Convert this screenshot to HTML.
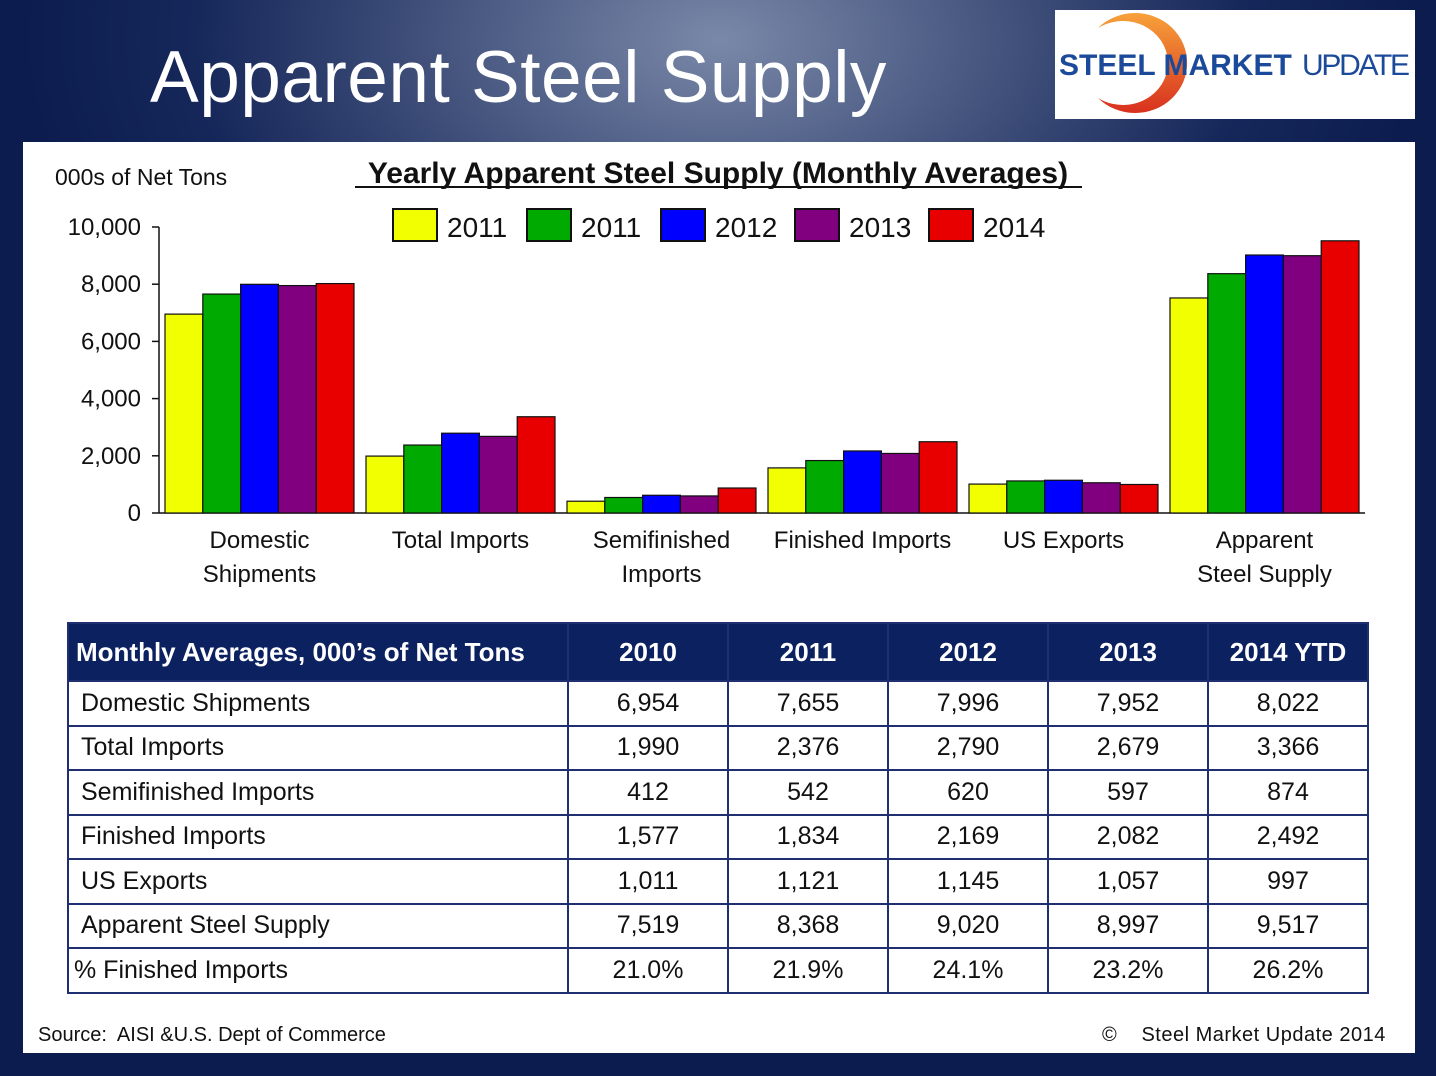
<!DOCTYPE html>
<html><head><meta charset="utf-8"><style>
body{margin:0;width:1436px;height:1076px;overflow:hidden;font-family:"Liberation Sans","DejaVu Sans",sans-serif;
background:radial-gradient(ellipse 700px 420px at 720px 40px,#7a88a8 0%,#3d4d78 45%,#16275a 75%,#0c1c4e 100%);position:relative}
.abs{position:absolute}
#title{left:150px;top:36px;font-size:73px;color:#fff;letter-spacing:0.5px}
#logo{left:1055px;top:10px;width:360px;height:109px;background:#fff}
#panel{left:23px;top:142px;width:1392px;height:911px;background:#fff}
table{position:absolute;left:67px;top:622px;border-collapse:collapse;font-size:25px;color:#111;table-layout:fixed;width:1300px}
td,th{border:2px solid #1f2f70;height:42.5px;padding:0;text-align:center}
th{background:#0c2160;color:#fff;font-weight:bold;height:56px;font-size:26px}
td.l{text-align:left;padding-left:12px}
</style></head><body>
<div id="title" class="abs">Apparent Steel Supply</div>
<div id="logo" class="abs">
<svg width="360" height="109"><defs><linearGradient id="g" x1="0" y1="0" x2="0" y2="1"><stop offset="0" stop-color="#f7a23a"/><stop offset="1" stop-color="#d8301e"/></linearGradient></defs>
<path d="M55,22 A52,50 0 1,1 55,92 A45,42 0 1,0 55,22 Z" transform="translate(-12,-4)" fill="url(#g)"/>
<text x="4" y="65" font-size="30" font-weight="bold" fill="#1c4a9a" font-family="Liberation Sans,sans-serif">STEEL MARKET</text>
<text x="247" y="65" font-size="30" fill="#1c4a9a" font-family="Liberation Sans,sans-serif" textLength="108">UPDATE</text></svg></div>
<div id="panel" class="abs"></div>
<svg class="abs" style="left:0;top:0" width="1436" height="620" id="chart">
<text x="55" y="185" font-size="23" fill="#111">000s of Net Tons</text>
<text x="718" y="183" font-size="30" font-weight="bold" text-anchor="middle" fill="#111">Yearly Apparent Steel Supply (Monthly Averages)</text>
<line x1="355" y1="187" x2="1082" y2="187" stroke="#111" stroke-width="2"/>
<g id="plot"></g>
</svg>
<table>
<colgroup><col style="width:500px"><col style="width:160px"><col style="width:160px"><col style="width:160px"><col style="width:160px"><col style="width:160px"></colgroup>
<tr><th style="text-align:left;padding-left:7px">Monthly Averages, 000’s of Net Tons</th><th>2010</th><th>2011</th><th>2012</th><th>2013</th><th>2014 YTD</th></tr>
<tr><td class="l">Domestic Shipments</td><td>6,954</td><td>7,655</td><td>7,996</td><td>7,952</td><td>8,022</td></tr>
<tr><td class="l">Total Imports</td><td>1,990</td><td>2,376</td><td>2,790</td><td>2,679</td><td>3,366</td></tr>
<tr><td class="l">Semifinished Imports</td><td>412</td><td>542</td><td>620</td><td>597</td><td>874</td></tr>
<tr><td class="l">Finished Imports</td><td>1,577</td><td>1,834</td><td>2,169</td><td>2,082</td><td>2,492</td></tr>
<tr><td class="l">US Exports</td><td>1,011</td><td>1,121</td><td>1,145</td><td>1,057</td><td>997</td></tr>
<tr><td class="l">Apparent Steel Supply</td><td>7,519</td><td>8,368</td><td>9,020</td><td>8,997</td><td>9,517</td></tr>
<tr><td class="l" style="padding-left:5px">% Finished Imports</td><td>21.0%</td><td>21.9%</td><td>24.1%</td><td>23.2%</td><td>26.2%</td></tr>
</table>
<div class="abs" style="left:38px;top:1024px;font-size:20px;color:#111">Source:&nbsp; AISI &amp;U.S. Dept of Commerce</div>
<div class="abs" style="left:1102px;top:1024px;font-size:20px;color:#111;letter-spacing:0.5px">©&nbsp;&nbsp;&nbsp; Steel Market Update 2014</div>
<script>
const categories=[["Domestic","Shipments"],["Total Imports"],["Semifinished","Imports"],["Finished Imports"],["US Exports"],["Apparent","Steel Supply"]];
const seriesNames=["2011","2011","2012","2013","2014"];
const s2010=[6954,1990,412,1577,1011,7519];
const s2011=[7655,2376,542,1834,1121,8368];
const s2012=[7996,2790,620,2169,1145,9020];
const s2013=[7952,2679,597,2082,1057,8997];
const s2014=[8022,3366,874,2492,997,9517];
const yTicks=[0,2000,4000,6000,8000,10000];
const colors=["#f2ff00","#00aa00","#0000ff","#800080","#e80000"];
const series=[s2010,s2011,s2012,s2013,s2014];
const NS="http://www.w3.org/2000/svg";
const g=document.getElementById('plot');
const x0=159,x1=1365,y0=513,y1=227,yMax=10000;
const y=v=>y0-(v/yMax)*(y0-y1);
const gw=(x1-x0)/categories.length;
function el(t,a){const e=document.createElementNS(NS,t);for(const k in a)e.setAttribute(k,a[k]);g.appendChild(e);return e;}
el('line',{x1:x0,y1:y1,x2:x0,y2:y0,stroke:'#111','stroke-width':1.5});
el('line',{x1:x0,y1:y0,x2:x1,y2:y0,stroke:'#111','stroke-width':1.5});
yTicks.forEach(t=>{
 el('line',{x1:x0-7,y1:y(t),x2:x0,y2:y(t),stroke:'#111','stroke-width':1.5});
 const tx=el('text',{x:x0-18,y:y(t)+8,'font-size':24,'text-anchor':'end',fill:'#111'});
 
 
 tx.textContent=t.toLocaleString('en-US');
});
const bw=37.8,pad=(gw-5*bw)/2;
categories.forEach((c,i)=>{
 series.forEach((s,j)=>{
  const r=el('rect',{x:x0+i*gw+pad+j*bw,y:y(s[i]),width:bw,height:y0-y(s[i]),fill:colors[j],stroke:'#111','stroke-width':1.2});
  
  
 });
 c.forEach((ln,k)=>{
  const tx=el('text',{x:x0+i*gw+gw/2,y:548+k*34,'font-size':24,'text-anchor':'middle',fill:'#111'});
  
  
  tx.textContent=ln;
 });
});
seriesNames.forEach((n,j)=>{
 const lx=393+j*134;
 const r=el('rect',{x:lx,y:209,width:44,height:32,fill:colors[j],stroke:'#111','stroke-width':2});
 
 
 const tx=el('text',{x:lx+54,y:237,'font-size':28,fill:'#111'});
 
 
 tx.textContent=n;
});
</script>
</body></html>
